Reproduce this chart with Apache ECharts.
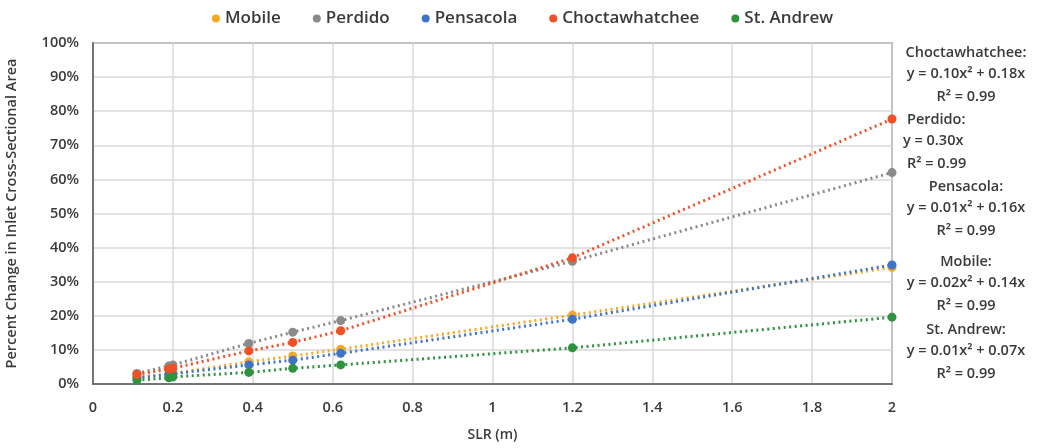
<!DOCTYPE html>
<html>
<head>
<meta charset="utf-8">
<script src="https://cdn.jsdelivr.net/npm/echarts@6/dist/echarts.min.js"></script>
<style>
  html, body { margin: 0; padding: 0; background: #fff; }
  #chart { width: 1045px; height: 448px; }
</style>
</head>
<body>
<div id="chart"></div>
<script>
// SLR values (m) used by every inlet
const slr = [0.11, 0.19, 0.2, 0.39, 0.5, 0.62, 1.2, 2.0];

// Percent change in inlet cross-sectional area
const mobile = [2.0, 2.9, 3.1, 6.5, 8.2, 10.2, 20.2, 34.2];
const perdido = [3.1, 5.3, 5.6, 11.9, 15.2, 18.6, 36.0, 62.0];
const pensacola = [1.8, 2.8, 3.0, 5.6, 7.0, 9.0, 19.0, 34.9];
const choctawhatchee = [2.8, 4.4, 4.6, 9.7, 12.2, 15.6, 37.0, 77.7];
const stAndrew = [1.1, 1.8, 2.1, 3.4, 4.6, 5.6, 10.6, 19.6];

const names = ["Mobile", "Perdido", "Pensacola", "Choctawhatchee", "St. Andrew"];
const colors = ["#f7a823", "#8a8a8a", "#3f74c6", "#ef5026", "#2f9240"];
const values = [mobile, perdido, pensacola, choctawhatchee, stAndrew];

// Trendline notes on the right
const notes = [
  { y: 53, lines: ["Choctawhatchee:", "y = 0.10x\u00b2 + 0.18x", "R\u00b2 = 0.99"], align: "center" },
  { y: 120, lines: ["Perdido:", "y = 0.30x", "R\u00b2 = 0.99"], align: "left" },
  { y: 187, lines: ["Pensacola:", "y = 0.01x\u00b2 + 0.16x", "R\u00b2 = 0.99"], align: "center" },
  { y: 262, lines: ["Mobile:", "y = 0.02x\u00b2 + 0.14x", "R\u00b2 = 0.99"], align: "center" },
  { y: 330, lines: ["St. Andrew:", "y = 0.01x\u00b2 + 0.07x", "R\u00b2 = 0.99"], align: "center" }
];

const font = "'Open Sans', 'Noto Sans', sans-serif";
const textColor = "#3a3a3a";

function pairs(ys) {
  return slr.map((x, i) => [x, ys[i]]);
}

const series = names.map((n, i) => ({
  name: n,
  type: "line",
  data: pairs(values[i]),
  symbol: "circle",
  symbolSize: 9,
  color: colors[i],
  lineStyle: { type: [2, 3.5], width: 3, color: colors[i] },
  itemStyle: { color: colors[i] },
  z: i === 3 ? 5 : 3
}));

const graphics = [];
notes.forEach((note) => {
  note.lines.forEach((t, k) => {
    let x = 966;
    if (note.align === "left") {
      x = k === 1 ? 903 : 907;
    }
    graphics.push({
      type: "text",
      x: x,
      y: note.y + (k === 0 ? 0 : k === 1 ? 21 : 44),
      style: {
        text: t,
        fill: textColor,
        font: "600 14.5px " + font,
        textAlign: note.align === "left" ? "left" : "center",
        textVerticalAlign: "middle"
      }
    });
  });
});

const chart = echarts.init(document.getElementById("chart"));
chart.setOption({
  animation: false,
  backgroundColor: "#fff",
  color: colors,
  legend: {
    top: 5,
    left: "center",
    itemGap: 32,
    itemWidth: 8,
    itemHeight: 8,
    icon: "circle",
    textStyle: { fontFamily: font, fontSize: 17, color: textColor, fontWeight: 600 },
    data: names
  },
  grid: {
    left: 93, right: 153, top: 43, bottom: 64,
    outerBoundsMode: "none",
    containLabel: false,
    show: true, borderColor: "#595959", borderWidth: 1.5
  },
  xAxis: {
    type: "value",
    min: 0, max: 2, interval: 0.2,
    name: "SLR (m)",
    nameLocation: "middle",
    nameGap: 44,
    nameTextStyle: { fontFamily: font, fontSize: 14, color: textColor, fontWeight: 600 },
    axisLine: { show: true, lineStyle: { color: "#595959", width: 1.5 } },
    axisTick: { show: false },
    axisLabel: { fontFamily: font, fontSize: 14.5, color: textColor, fontWeight: 600, margin: 16 },
    splitLine: { show: true, lineStyle: { color: "#d9d9d9", width: 1.5 } }
  },
  yAxis: {
    type: "value",
    min: 0, max: 100, interval: 10,
    name: "Percent Change in Inlet Cross-Sectional Area",
    nameLocation: "middle",
    nameGap: 74,
    nameTextStyle: { fontFamily: font, fontSize: 14.5, color: textColor, fontWeight: 600 },
    axisLine: { show: true, lineStyle: { color: "#595959", width: 1.5 } },
    axisTick: { show: false },
    axisLabel: { formatter: "{value}%", fontFamily: font, fontSize: 14.5, color: textColor, fontWeight: 600, margin: 14 },
    splitLine: { show: true, lineStyle: { color: "#d9d9d9", width: 1.5 } }
  },
  graphic: graphics,
  series: series
});
</script>
</body>
</html>
